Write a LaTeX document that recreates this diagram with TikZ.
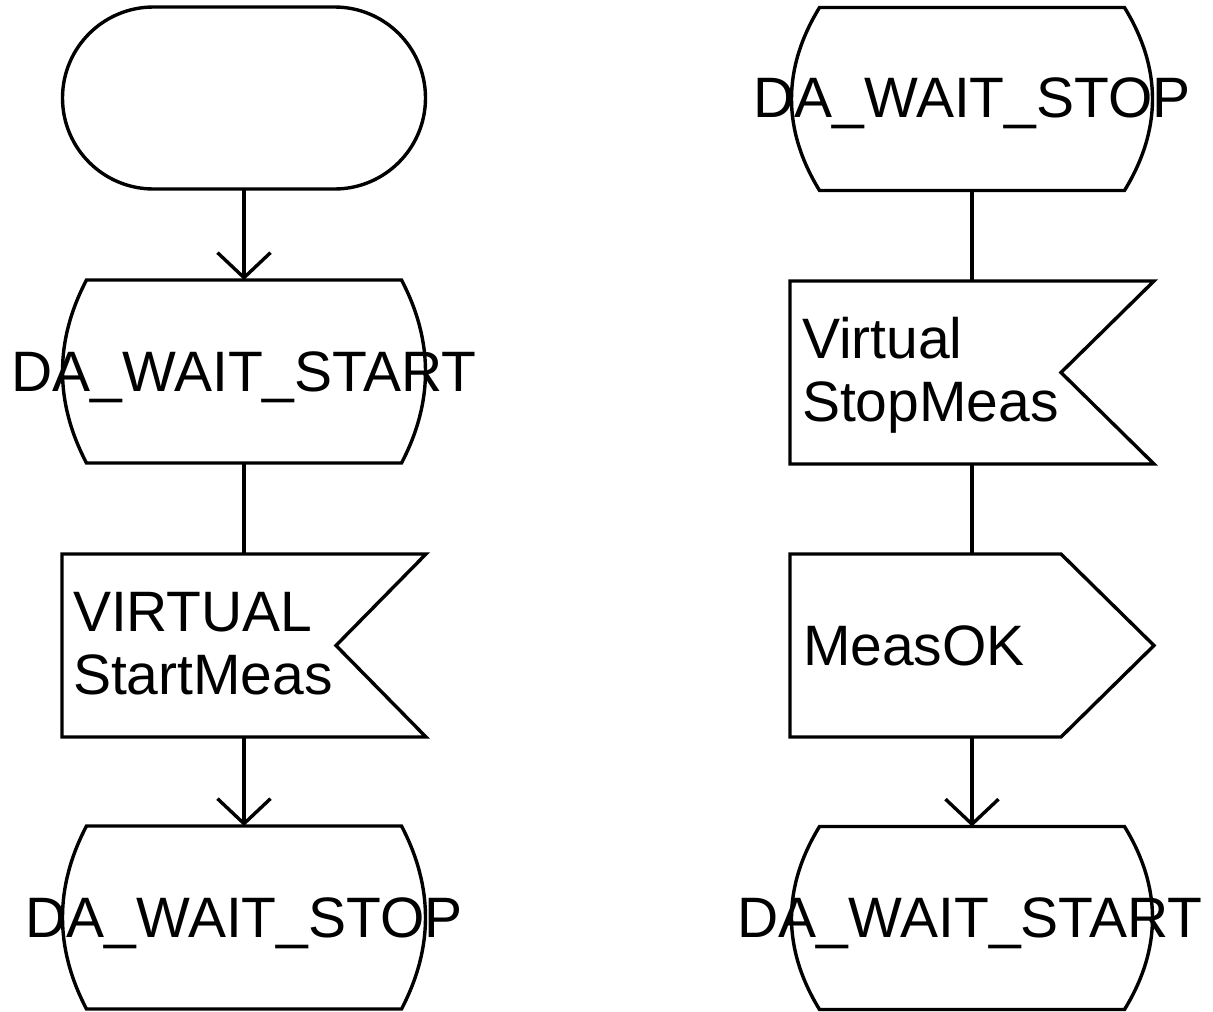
\documentclass[tikz,border=0pt]{standalone}
\usepackage{fontspec}
\setmainfont{Liberation Sans}
\usetikzlibrary{arrows.meta,shapes.misc,calc}
\newcommand\stateoutline[2]{%
  \draw[flow] ($(#1.north west)+(#2,0)$) -- ($(#1.north east)+(-#2,0)$)
    .. controls ($(#1.east)+(#2/3,-30.5)$) and ($(#1.east)+(#2/3,30.5)$) .. ($(#1.south east)+(-#2,0)$)
    -- ($(#1.south west)+(#2,0)$)
    .. controls ($(#1.west)+(-#2/3,30.5)$) and ($(#1.west)+(-#2/3,-30.5)$) .. cycle;}
\begin{document}
\begin{tikzpicture}[x=1pt,y=-1pt,
  flow/.style={line width=3.4pt, line join=miter},
  arrowflow/.style={flow, -{Straight Barb[length=25pt,width=53pt]}},
  startbox/.style={rounded rectangle, draw, line width=3.4pt, inner sep=0pt, outer sep=0pt, minimum width=363pt, minimum height=182pt},
  statebox/.style={rectangle, draw=none, inner sep=0pt, outer sep=0pt, minimum width=#1, minimum height=183pt},
  flagbox/.style={rectangle, draw=none, inner sep=0pt, outer sep=0pt, minimum width=364pt, minimum height=183pt},
  lbl/.style={font=\fontsize{57}{63}\selectfont, inner sep=0pt, outer sep=0pt}]
\useasboundingbox[fill=white] (0,0) rectangle (1213,1012);

% left column
\node[startbox] (start) at (244,98) {};
\node[statebox=363pt] (s1) at (244,371.5) {};
\node[flagbox] (in1) at (244,645.5) {};
\node[statebox=363pt] (s2) at (244,917.5) {};

% right column
\node[statebox=361pt] (s3) at (972,99) {};
\node[flagbox] (in2) at (972,372.5) {};
\node[flagbox] (out1) at (972,645.5) {};
\node[statebox=361pt] (s4) at (972,918) {};

% outlines
\stateoutline{s1}{24}
\stateoutline{s2}{24}
\stateoutline{s3}{28}
\stateoutline{s4}{28}
\draw[flow] (in1.north west) -- (in1.north east) -- ($(in1.east)+(-90,0)$) -- (in1.south east) -- (in1.south west) -- cycle;
\draw[flow] (in2.north west) -- (in2.north east) -- ($(in2.east)+(-93,0)$) -- (in2.south east) -- (in2.south west) -- cycle;
\draw[flow] (out1.north west) -- ($(out1.north east)+(-93,0)$) -- (out1.east) -- ($(out1.south east)+(-93,0)$) -- (out1.south west) -- cycle;

% texts
\node[lbl, anchor=base] (t1) at (244,391) {DA\_WAIT\_START};
\node[lbl, anchor=base west, align=left] (t2) at (73,694) {VIRTUAL\\StartMeas};
\node[lbl, anchor=base] (t3) at (244,937) {DA\_WAIT\_STOP};
\node[lbl, anchor=base] (t4) at (972,117) {DA\_WAIT\_STOP};
\node[lbl, anchor=base west, align=left] (t5) at (802,421) {Virtual\\StopMeas};
\node[lbl, anchor=base west] (t6) at (803,665) {MeasOK};
\node[lbl, anchor=base] (t7) at (970,937) {DA\_WAIT\_START};

% connectors
\draw[arrowflow] (start.south) -- (s1.north);
\draw[flow] (s1.south) -- (in1.north);
\draw[arrowflow] (in1.south) -- (s2.north);
\draw[flow] (s3.south) -- (in2.north);
\draw[flow] (in2.south) -- (out1.north);
\draw[arrowflow] (out1.south) -- (s4.north);
\end{tikzpicture}
\end{document}
